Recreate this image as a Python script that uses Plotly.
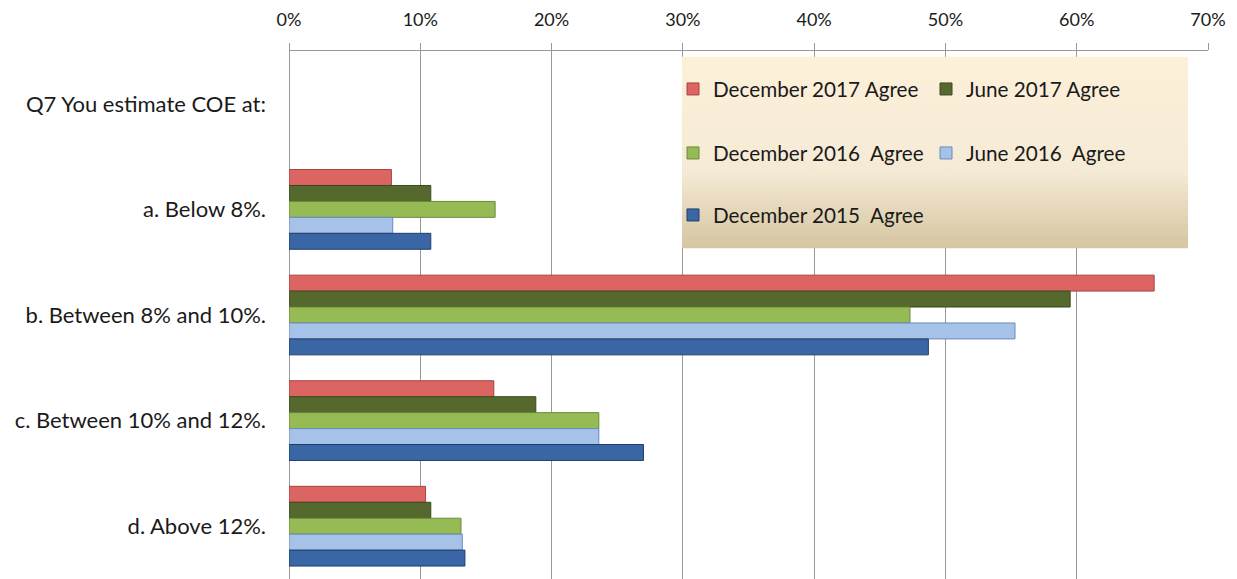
import plotly.graph_objects as go

categories = ["Q7 You estimate COE at:", "a. Below 8%.", "b. Between 8% and 10%.",
              "c. Between 10% and 12%.", "d. Above 12%."]
series_names = ["December 2017 Agree", "June 2017 Agree", "December 2016  Agree",
                "June 2016  Agree", "December 2015  Agree"]
dec_2017 = [None, 0.078, 0.659, 0.156, 0.104]
jun_2017 = [None, 0.108, 0.595, 0.188, 0.108]
dec_2016 = [None, 0.157, 0.473, 0.236, 0.131]
jun_2016 = [None, 0.079, 0.553, 0.236, 0.132]
dec_2015 = [None, 0.108, 0.487, 0.270, 0.134]
series_values = [dec_2017, jun_2017, dec_2016, jun_2016, dec_2015]

fill_colors = ["#dc6462", "#55692e", "#96bb55", "#a6c2e8", "#3a66a5"]
line_colors = ["#a84340", "#3a4a1f", "#6b8a38", "#6a8bbb", "#1f3e6a"]
legend_ids = ["legend", "legend", "legend2", "legend2", "legend3"]

FONT = "Lato"
OFF = 8  # page body margin
W, H = 1237 - OFF, 579 - OFF
ML, MR, MT, MB = 289 - OFF, 29, 51 - OFF, 0
PW, PH = W - ML - MR, H - MT - MB

def px_x(p):
    return (p - OFF - ML) / PW

def px_y(p):
    return (H - MB - (p - OFF)) / PH

fig = go.Figure()
for name, vals, fc, lc, lg in zip(series_names, series_values, fill_colors, line_colors, legend_ids):
    fig.add_trace(go.Bar(
        y=categories, x=vals, name=name, orientation="h",
        marker=dict(color=fc, line=dict(color=lc, width=1)),
        legend=lg,
    ))

# legend background gradient (stripes)
def hex2rgb(h):
    h = h.lstrip("#")
    return tuple(int(h[i:i + 2], 16) for i in (0, 2, 4))

stops = [(0.0, "#fdf0d9"), (0.6, "#f5ead5"), (1.0, "#d5c5a0")]
def grad(t):
    for (t0, c0), (t1, c1) in zip(stops[:-1], stops[1:]):
        if t0 <= t <= t1:
            f = (t - t0) / (t1 - t0)
            a, b = hex2rgb(c0), hex2rgb(c1)
            return "rgb(%d,%d,%d)" % tuple(round(a[i] + (b[i] - a[i]) * f) for i in range(3))
    return stops[-1][1]

box_top, box_bot, box_l, box_r = 57, 248, 682, 1188
n = 48
shapes = []
for i in range(n):
    y0p = box_top + (box_bot - box_top) * i / n
    y1p = box_top + (box_bot - box_top) * (i + 1) / n
    shapes.append(dict(type="rect", xref="paper", yref="paper",
                       x0=px_x(box_l), x1=px_x(box_r), y0=px_y(y1p) - 0.0005, y1=px_y(y0p) + 0.0005,
                       fillcolor=grad((i + 0.5) / n), line=dict(width=0), layer="above"))

leg_common = dict(orientation="h", xanchor="left", yanchor="middle",
                  bgcolor="rgba(0,0,0,0)", entrywidth=208, entrywidthmode="pixels",
                  font=dict(family=FONT, size=20.7, color="#1a1a1a"), traceorder="normal")
lx = px_x(673)

fig.update_layout(
    width=W, height=H,
    margin=dict(l=ML, r=MR, t=MT, b=MB, pad=0),
    paper_bgcolor="white", plot_bgcolor="white",
    barmode="group", bargap=0.245, bargroupgap=0,
    font=dict(family=FONT, color="#1a1a1a"),
    shapes=shapes,
    legend=dict(x=lx, y=px_y(89), **leg_common),
    legend2=dict(x=lx, y=px_y(153), **leg_common),
    legend3=dict(x=lx, y=px_y(215), **leg_common),
    xaxis=dict(side="top", range=[0, 0.7], dtick=0.1, tickformat=".0%",
               showgrid=True, gridcolor="#999999", gridwidth=1,
               zeroline=True, zerolinecolor="#999999", zerolinewidth=1,
               showline=True, linecolor="#999999", linewidth=1,
               ticks="outside", ticklen=7, tickcolor="#999999",
               ticklabelstandoff=10,
               tickfont=dict(family=FONT, size=18, color="#1a1a1a")),
    yaxis=dict(autorange="reversed", showgrid=False, showline=False, zeroline=False,
               ticks="", ticklabelstandoff=22,
               tickfont=dict(family=FONT, size=22, color="#1a1a1a")),
)

fig.write_html("out.html")
